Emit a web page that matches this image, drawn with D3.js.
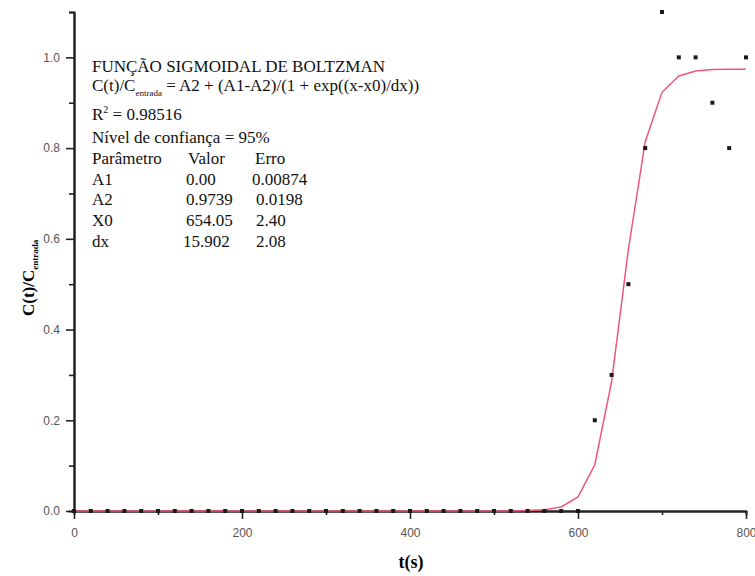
<!DOCTYPE html>
<html>
<head>
<meta charset="utf-8">
<script src="https://cdn.jsdelivr.net/npm/d3@7"></script>
<style>
  body { margin: 0; background: #fff; }
  svg { display: block; }
</style>
</head>
<body>
<div id="chart-area"></div>
<script>
// Data points (t in s, C/Cin)
const tPoints = d3.range(0, 801, 20);
const cPoints = [
  0, 0, 0, 0, 0, 0, 0, 0, 0, 0,
  0, 0, 0, 0, 0, 0, 0, 0, 0, 0,
  0, 0, 0, 0, 0, 0, 0, 0, 0, 0,
  0, 0.2, 0.3, 0.5, 0.8, 1.1, 1.0, 1.0, 0.9, 0.8,
  1.0
];

// Fitted curve
const tFit = [0, 520, 540, 560, 580, 600, 620, 640, 660, 680, 700, 720, 740, 760, 780, 800];
const cFit = [0, 0, 0.001, 0.003, 0.009, 0.031, 0.102, 0.285, 0.577, 0.814, 0.923, 0.959, 0.970, 0.973, 0.974, 0.974];

// Fit report
const paramNames = ['A1', 'A2', 'X0', 'dx'];
const paramValues = ['0.00', '0.9739', '654.05', '15.902'];
const paramErrors = ['0.00874', '0.0198', '2.40', '2.08'];

const xTicks = [0, 200, 400, 600, 800];
const yTicks = [0, 0.2, 0.4, 0.6, 0.8, 1.0];

const margin = { left: 74, right: 9, top: 12, bottom: 65 };
const width = 755 - margin.left - margin.right;
const height = 576 - margin.top - margin.bottom;

const svg = d3.select('#chart-area')
    .append('svg')
        .attr('width', 755)
        .attr('height', 576);

const g = svg.append('g')
    .attr('transform', 'translate(' + margin.left + ', ' + margin.top + ')');

const x = d3.scaleLinear().domain([0, 800]).range([0, width]);
const y = d3.scaleLinear().domain([0, 1.1]).range([height, 0]);

const tickFont = 'Liberation Sans, Arial, sans-serif';
const serif = 'Liberation Serif, Times New Roman, serif';

// Minor ticks
const xAxisMinor = d3.axisBottom(x).tickValues([100, 300, 500, 700]).tickSize(4).tickFormat('');
const yAxisMinor = d3.axisLeft(y).tickValues([0.1, 0.3, 0.5, 0.7, 0.9, 1.1]).tickSize(5).tickFormat('');

g.append('g').attr('class', 'x minor')
    .attr('transform', 'translate(0, ' + height + ')')
    .call(xAxisMinor);
g.append('g').attr('class', 'y minor')
    .call(yAxisMinor);

// Major axes
const xAxisGroup = g.append('g')
    .attr('class', 'x axis')
    .attr('transform', 'translate(0, ' + height + ')')
    .call(d3.axisBottom(x).tickValues(xTicks).tickSize(8).tickPadding(9).tickSizeOuter(0));

const yAxisGroup = g.append('g')
    .attr('class', 'y axis')
    .call(d3.axisLeft(y).tickValues(yTicks).tickSize(8).tickPadding(6).tickSizeOuter(0)
        .tickFormat(d3.format('.1f')));

g.selectAll('.domain').attr('stroke', '#222').attr('stroke-width', 2);
g.selectAll('.tick line').attr('stroke', '#222').attr('stroke-width', 1.6);
g.selectAll('.tick text')
    .attr('font-family', tickFont)
    .attr('font-size', '12px')
    .attr('fill', '#555');

// Fit line
const line = d3.line()
    .x((d, i) => x(tFit[i]))
    .y((d) => y(d));

g.append('path')
    .datum(cFit)
    .attr('fill', 'none')
    .attr('stroke', '#f0567a')
    .attr('stroke-width', 1.5)
    .attr('d', line);

// Points
g.selectAll('rect.pt')
    .data(cPoints)
    .enter()
    .append('rect')
        .attr('class', 'pt')
        .attr('x', (d, i) => x(tPoints[i]) - 2)
        .attr('y', (d) => y(d) - 2)
        .attr('width', 4)
        .attr('height', 4)
        .attr('fill', '#1a1a1a');

// X Label
svg.append('text')
    .attr('x', 411)
    .attr('y', 568)
    .attr('font-family', serif)
    .attr('font-weight', 'bold')
    .attr('font-size', '18px')
    .attr('text-anchor', 'middle')
    .text('t(s)');

// Y Label
const yLabel = svg.append('text')
    .attr('transform', 'translate(34, 316) rotate(-90)')
    .attr('font-family', serif)
    .attr('font-weight', 'bold')
    .attr('font-size', '17px');
yLabel.append('tspan').text('C(t)/C');
yLabel.append('tspan').attr('font-size', '9px').attr('dy', 4).text('entrada');

// Info block
const info = svg.append('g')
    .attr('font-family', serif)
    .attr('font-size', '17px')
    .attr('fill', '#111');

info.append('text').attr('x', 92).attr('y', 72).text('FUNÇÃO SIGMOIDAL DE BOLTZMAN');

const formula = info.append('text').attr('x', 92).attr('y', 91);
formula.append('tspan').text('C(t)/C');
formula.append('tspan').attr('font-size', '9px').attr('dy', 5).text('entrada');
formula.append('tspan').attr('dy', -5).text(' = A2 + (A1-A2)/(1 + exp((x-x0)/dx))');

const r2 = info.append('text').attr('x', 92).attr('y', 120);
r2.append('tspan').text('R');
r2.append('tspan').attr('font-size', '10px').attr('dy', -7).text('2');
r2.append('tspan').attr('dy', 7).text(' = 0.98516');

info.append('text').attr('x', 92).attr('y', 143).text('Nível de confiança = 95%');

info.append('text').attr('x', 92).attr('y', 164).text('Parâmetro');
info.append('text').attr('x', 188).attr('y', 164).text('Valor');
info.append('text').attr('x', 255).attr('y', 164).text('Erro');

const rowY = [185, 205, 226, 247];
paramNames.forEach((name, i) => {
    info.append('text').attr('x', 92).attr('y', rowY[i]).text(name);
    info.append('text').attr('x', i === 3 ? 183 : 186).attr('y', rowY[i]).text(paramValues[i]);
    info.append('text').attr('x', i === 0 ? 252 : 256).attr('y', rowY[i]).text(paramErrors[i]);
});
</script>
</body>
</html>
